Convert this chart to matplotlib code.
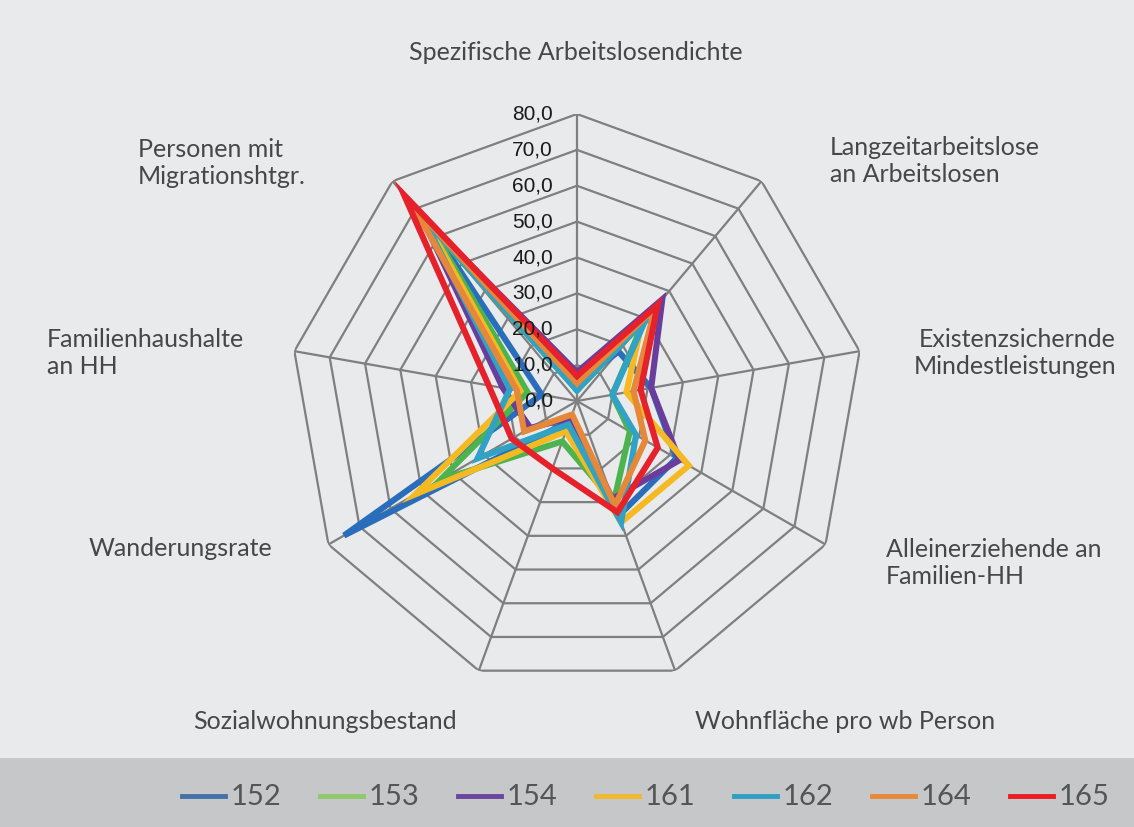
import numpy as np
import matplotlib.pyplot as plt
from matplotlib.patches import Rectangle

# Kategorien (im Uhrzeigersinn ab oben)
kategorien = ['Spezifische Arbeitslosendichte', 'Langzeitarbeitslose\nan Arbeitslosen',
              'Existenzsichernde\nMindestleistungen', 'Alleinerziehende an\nFamilien-HH',
              'Wohnfläche pro wb Person', 'Sozialwohnungsbestand', 'Wanderungsrate',
              'Familienhaushalte\nan HH', 'Personen mit\nMigrationshtgr.']

gebiete = ['152', '153', '154', '161', '162', '164', '165']
w152 = [5, 18, 21, 32, 34, 6, 75, 10, 63]
w153 = [3, 29, 10, 17, 30, 12, 44, 14, 64]
w154 = [8, 37, 21, 33, 29, 5, 15, 21, 68]
w161 = [5, 28, 14, 36, 36, 9, 52, 16, 66]
w162 = [3, 30, 10, 19, 36, 7, 32, 19, 67]
w164 = [5, 34, 16, 22, 31, 4, 17, 17, 71]
w165 = [7, 35, 18, 26, 33, 20, 21, 25, 75]
werte = [w152, w153, w154, w161, w162, w164, w165]
farben = ['#2a6ebb', '#4cb34f', '#6a3c9c', '#f5b921', '#31a2c4', '#e6883a', '#e5212b']
leg_farben = ['#4472a8', '#8fc96a', '#6a46a0', '#f0b92e', '#2f9fc4', '#e6883a', '#ec1c24']

ringe = [0, 10, 20, 30, 40, 50, 60, 70, 80]

fig = plt.figure(figsize=(11.34, 8.28), dpi=100)
fig.patch.set_facecolor('#e9eaec')
fig.patches.append(Rectangle((0, 0), 1, 69 / 828, transform=fig.transFigure,
                             facecolor='#c6c7c9', edgecolor='none', zorder=0))

ax = fig.add_axes([0.2557, 0.1679, 0.5062, 0.6932], projection='polar')
ax.set_theta_offset(np.pi / 2)
ax.set_theta_direction(-1)
ax.set_ylim(0, 80)
ax.set_facecolor('none')
ax.grid(False)
ax.spines['polar'].set_visible(False)
ax.set_xticks([])
ax.set_yticks([])

n = len(kategorien)
theta = np.arange(n) * 2 * np.pi / n
theta_c = np.append(theta, theta[0])

gitter = '#7f7f7f'
for r in ringe[1:]:
    ax.plot(theta_c, [r] * (n + 1), color=gitter, lw=1.6, zorder=1)
for t in theta:
    ax.plot([t, t], [0, 80], color=gitter, lw=1.6, zorder=1)

for v in ringe:
    ax.annotate(f'{v:.1f}'.replace('.', ','), xy=(0, v), xytext=(-24, 1),
                textcoords='offset pixels', ha='right', va='center',
                fontsize=15, color='#1a1a1a', family='Liberation Sans', zorder=5)

for w, c, g in zip(werte, farben, gebiete):
    ax.plot(theta_c, w + w[:1], color=c, lw=4.4, zorder=3, solid_joinstyle='miter')

# Kategorie-Beschriftungen
lab = dict(fontsize=18, color='#474747', family='Lato', fontweight='normal',
           linespacing=1.25)
pos = [(576, 52, 'center'), (830, 161, 'left'), (1116, 353, 'right'),
       (886, 563, 'left'), (845, 722, 'center'), (325, 722, 'center'),
       (272, 549, 'right'), (47, 353, 'left'), (138, 163, 'left')]
for k, (x, y, ha) in zip(kategorien, pos):
    fig.text(x / 1134, 1 - y / 828, k, ha=ha, va='center', **lab)

# Legende
x0 = 182
for i, (g, c) in enumerate(zip(gebiete, leg_farben)):
    xs = x0 + i * 138
    fig.add_artist(plt.Line2D([xs / 1134, (xs + 43) / 1134], [1 - 797 / 828] * 2,
                              color=c, lw=3.5, transform=fig.transFigure))
    fig.text((xs + 49) / 1134, 1 - 797 / 828, g, ha='left', va='center',
             fontsize=21, color='#555555', family='Lato', fontweight='normal')

fig.savefig('out.png', dpi=100, facecolor=fig.get_facecolor())
